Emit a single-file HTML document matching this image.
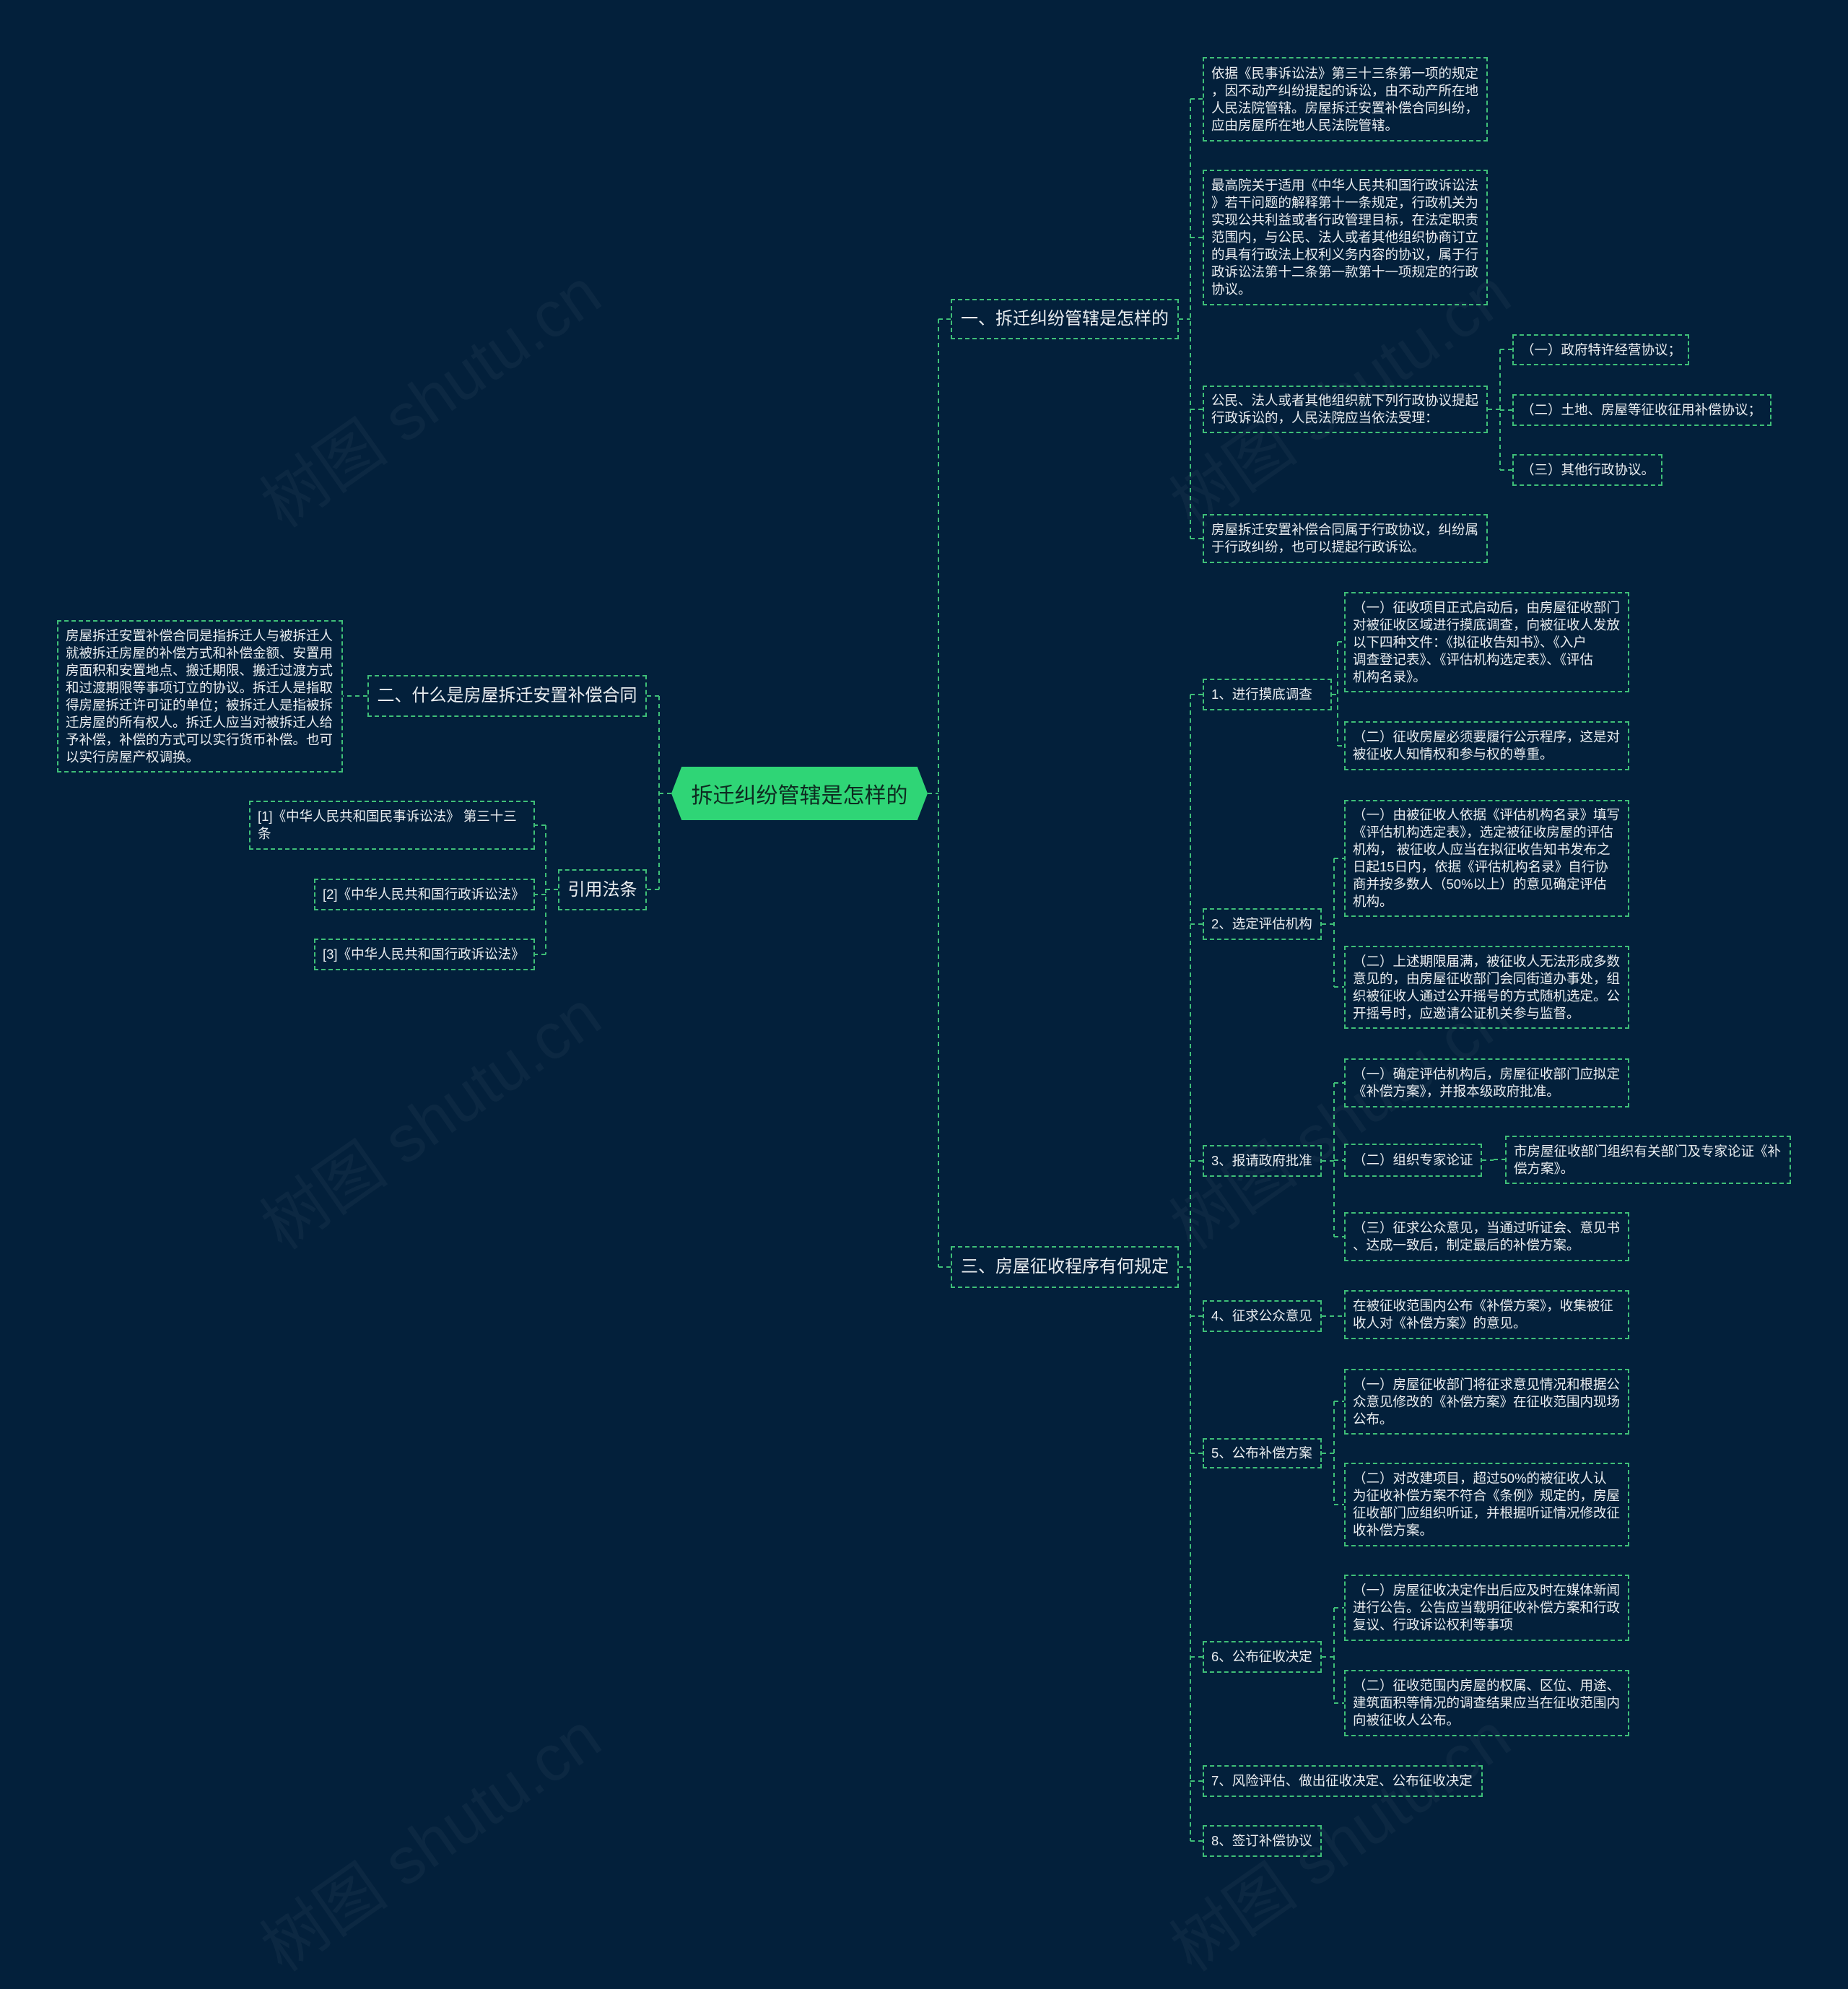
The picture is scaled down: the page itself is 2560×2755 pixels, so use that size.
<!DOCTYPE html>
<html><head><meta charset="utf-8">
<style>
html,body{margin:0;padding:0;}
body{width:2560px;height:2651px;background:#03203b;position:relative;overflow:hidden;font-family:"Liberation Sans","Noto Sans CJK SC",sans-serif;}
.n{position:absolute;box-sizing:border-box;border:2px dashed #3fbf78;color:#e8ecef;font-size:18.5px;line-height:24px;padding:0 10px;display:flex;align-items:center;white-space:nowrap;}
.b{font-size:24px;line-height:30px;padding:0 10px;justify-content:center;}
.root{position:absolute;left:930px;top:1062px;width:355px;height:74px;background:#2fd576;color:#0d2b20;font-size:30px;display:flex;align-items:center;justify-content:center;clip-path:polygon(4% 0,96% 0,100% 50%,96% 100%,4% 100%,0 50%);}
svg{position:absolute;left:0;top:0;}
.wm{position:absolute;color:rgba(255,255,255,0.04);font-size:90px;transform:rotate(-35deg);white-space:nowrap;}
</style></head><body>
<div class="wm" style="left:320px;top:480px;">树图 shutu.cn</div>
<div class="wm" style="left:320px;top:1480px;">树图 shutu.cn</div>
<div class="wm" style="left:320px;top:2480px;">树图 shutu.cn</div>
<div class="wm" style="left:1580px;top:480px;">树图 shutu.cn</div>
<div class="wm" style="left:1580px;top:1480px;">树图 shutu.cn</div>
<div class="wm" style="left:1580px;top:2480px;">树图 shutu.cn</div>
<svg width="2560" height="2651" fill="none" stroke="#3fbf78" stroke-width="2" stroke-dasharray="6,5">
<path d="M1285 1099H1300M1300 442V1755M1300 442H1317M1300 1755H1317"/>
<path d="M930 1099H913M913 964V1232M913 964H896M913 1232H896"/>
<path d="M509 964H475"/>
<path d="M773 1232H756M756 1143V1322M756 1143H741M756 1239H741M756 1322H741"/>
<path d="M1633 442H1649M1649 137V746M1649 137H1666M1649 329H1666M1649 567H1666M1649 746H1666"/>
<path d="M2061 567H2078M2078 484V651M2078 484H2095M2078 568H2095M2078 651H2095"/>
<path d="M1633 1755H1649M1649 962V2550M1649 962H1666M1649 1280H1666M1649 1608H1666M1649 1823H1666M1649 2013H1666M1649 2295H1666M1649 2467H1666M1649 2550H1666"/>
<path d="M1845 962H1853M1853 889V1033M1853 889H1862M1853 1033H1862"/>
<path d="M1831 1280H1848M1848 1189V1367M1848 1189H1862M1848 1367H1862"/>
<path d="M1831 1608H1848M1848 1500V1713M1848 1500H1862M1848 1607H1862M1848 1713H1862"/>
<path d="M2053 1607H2069M2069 1606H2085"/>
<path d="M1831 1823H1862"/>
<path d="M1831 2013H1848M1848 1941V2084M1848 1941H1862M1848 2084H1862"/>
<path d="M1831 2295H1848M1848 2227V2359M1848 2227H1862M1848 2359H1862"/>
</svg>
<div class="root">拆迁纠纷管辖是怎样的</div>
<div class="n b" style="left:1317px;top:414px;width:316px;height:56px;">一、拆迁纠纷管辖是怎样的</div>
<div class="n b" style="left:509px;top:935px;width:387px;height:58px;">二、什么是房屋拆迁安置补偿合同</div>
<div class="n b" style="left:773px;top:1204px;width:123px;height:57px;">引用法条</div>
<div class="n b" style="left:1317px;top:1726px;width:316px;height:58px;">三、房屋征收程序有何规定</div>

<div class="n" style="left:1666px;top:79px;width:395px;height:117px;">依据《民事诉讼法》第三十三条第一项的规定<br>，因不动产纠纷提起的诉讼，由不动产所在地<br>人民法院管辖。房屋拆迁安置补偿合同纠纷，<br>应由房屋所在地人民法院管辖。</div>
<div class="n" style="left:1666px;top:235px;width:395px;height:188px;">最高院关于适用《中华人民共和国行政诉讼法<br>》若干问题的解释第十一条规定，行政机关为<br>实现公共利益或者行政管理目标，在法定职责<br>范围内，与公民、法人或者其他组织协商订立<br>的具有行政法上权利义务内容的协议，属于行<br>政诉讼法第十二条第一款第十一项规定的行政<br>协议。</div>
<div class="n" style="left:1666px;top:534px;width:395px;height:66px;">公民、法人或者其他组织就下列行政协议提起<br>行政诉讼的，人民法院应当依法受理：</div>
<div class="n" style="left:1666px;top:712px;width:395px;height:68px;">房屋拆迁安置补偿合同属于行政协议，纠纷属<br>于行政纠纷，也可以提起行政诉讼。</div>
<div class="n" style="left:2095px;top:463px;width:245px;height:43px;">（一）政府特许经营协议；</div>
<div class="n" style="left:2095px;top:546px;width:359px;height:44px;">（二）土地、房屋等征收征用补偿协议；</div>
<div class="n" style="left:2095px;top:629px;width:208px;height:44px;">（三）其他行政协议。</div>

<div class="n" style="left:79px;top:859px;width:396px;height:211px;">房屋拆迁安置补偿合同是指拆迁人与被拆迁人<br>就被拆迁房屋的补偿方式和补偿金额、安置用<br>房面积和安置地点、搬迁期限、搬迁过渡方式<br>和过渡期限等事项订立的协议。拆迁人是指取<br>得房屋拆迁许可证的单位；被拆迁人是指被拆<br>迁房屋的所有权人。拆迁人应当对被拆迁人给<br>予补偿，补偿的方式可以实行货币补偿。也可<br>以实行房屋产权调换。</div>
<div class="n" style="left:345px;top:1109px;width:396px;height:68px;">[1]《中华人民共和国民事诉讼法》 第三十三<br>条</div>
<div class="n" style="left:435px;top:1217px;width:306px;height:44px;">[2]《中华人民共和国行政诉讼法》</div>
<div class="n" style="left:435px;top:1300px;width:306px;height:44px;">[3]《中华人民共和国行政诉讼法》</div>

<div class="n" style="left:1666px;top:940px;width:179px;height:44px;">1、进行摸底调查</div>
<div class="n" style="left:1666px;top:1258px;width:165px;height:44px;">2、选定评估机构</div>
<div class="n" style="left:1666px;top:1586px;width:165px;height:44px;">3、报请政府批准</div>
<div class="n" style="left:1666px;top:1801px;width:165px;height:44px;">4、征求公众意见</div>
<div class="n" style="left:1666px;top:1992px;width:165px;height:42px;">5、公布补偿方案</div>
<div class="n" style="left:1666px;top:2273px;width:165px;height:44px;">6、公布征收决定</div>
<div class="n" style="left:1666px;top:2445px;width:388px;height:44px;">7、风险评估、做出征收决定、公布征收决定</div>
<div class="n" style="left:1666px;top:2528px;width:165px;height:44px;">8、签订补偿协议</div>

<div class="n" style="left:1862px;top:820px;width:395px;height:139px;">（一）征收项目正式启动后，由房屋征收部门<br>对被征收区域进行摸底调查，向被征收人发放<br>以下四种文件：《拟征收告知书》、《入户<br>调查登记表》、《评估机构选定表》、《评估<br>机构名录》。</div>
<div class="n" style="left:1862px;top:999px;width:395px;height:68px;">（二）征收房屋必须要履行公示程序，这是对<br>被征收人知情权和参与权的尊重。</div>
<div class="n" style="left:1862px;top:1108px;width:395px;height:162px;">（一）由被征收人依据《评估机构名录》填写<br>《评估机构选定表》，选定被征收房屋的评估<br>机构， 被征收人应当在拟征收告知书发布之<br>日起15日内，依据《评估机构名录》自行协<br>商并按多数人（50%以上）的意见确定评估<br>机构。</div>
<div class="n" style="left:1862px;top:1310px;width:395px;height:115px;">（二）上述期限届满，被征收人无法形成多数<br>意见的，由房屋征收部门会同街道办事处，组<br>织被征收人通过公开摇号的方式随机选定。公<br>开摇号时，应邀请公证机关参与监督。</div>
<div class="n" style="left:1862px;top:1466px;width:395px;height:68px;">（一）确定评估机构后，房屋征收部门应拟定<br>《补偿方案》，并报本级政府批准。</div>
<div class="n" style="left:1862px;top:1584px;width:191px;height:46px;">（二）组织专家论证</div>
<div class="n" style="left:2085px;top:1573px;width:396px;height:67px;">市房屋征收部门组织有关部门及专家论证《补<br>偿方案》。</div>
<div class="n" style="left:1862px;top:1679px;width:395px;height:68px;">（三）征求公众意见，当通过听证会、意见书<br>、达成一致后，制定最后的补偿方案。</div>
<div class="n" style="left:1862px;top:1787px;width:395px;height:68px;">在被征收范围内公布《补偿方案》，收集被征<br>收人对《补偿方案》的意见。</div>
<div class="n" style="left:1862px;top:1896px;width:395px;height:91px;">（一）房屋征收部门将征求意见情况和根据公<br>众意见修改的《补偿方案》在征收范围内现场<br>公布。</div>
<div class="n" style="left:1862px;top:2026px;width:395px;height:116px;">（二）对改建项目，超过50%的被征收人认<br>为征收补偿方案不符合《条例》规定的，房屋<br>征收部门应组织听证，并根据听证情况修改征<br>收补偿方案。</div>
<div class="n" style="left:1862px;top:2181px;width:395px;height:92px;">（一）房屋征收决定作出后应及时在媒体新闻<br>进行公告。公告应当载明征收补偿方案和行政<br>复议、行政诉讼权利等事项</div>
<div class="n" style="left:1862px;top:2313px;width:395px;height:92px;">（二）征收范围内房屋的权属、区位、用途、<br>建筑面积等情况的调查结果应当在征收范围内<br>向被征收人公布。</div>
</body></html>
